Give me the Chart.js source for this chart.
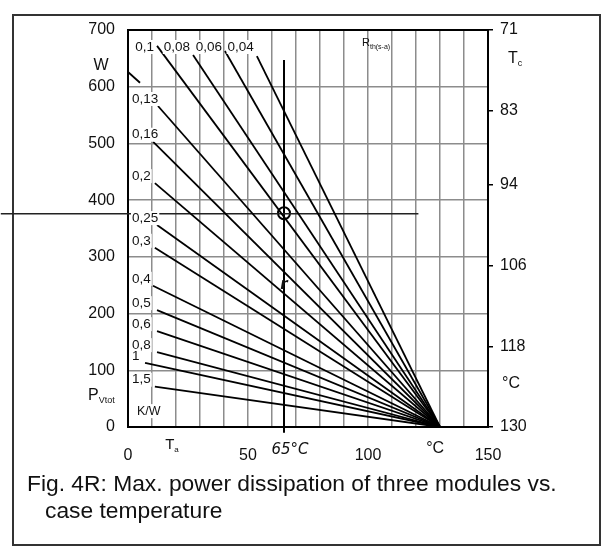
<!DOCTYPE html>
<html>
<head>
<meta charset="utf-8">
<script src="https://cdn.jsdelivr.net/npm/chart.js@4"></script>
<style>
body { margin: 0; background: #fff; }
#wrap { position: relative; width: 604px; height: 550px; }
#frame { position: absolute; left: 12px; top: 14px; width: 585px; height: 528px; border: 2px solid #333; }
canvas { position: absolute; left: 0; top: 0; }
.cap { position: absolute; font-family: 'Liberation Sans', Arial, sans-serif; font-size: 22.8px; line-height: 26px; color: #111; white-space: nowrap; }
</style>
</head>
<body>
<div id="wrap">
  <div id="frame"></div>
  <canvas id="chart" width="604" height="550"></canvas>
  <div class="cap" style="left:27px; top:470px">Fig. 4R: Max. power dissipation of three modules vs.</div>
  <div class="cap" style="left:45px; top:497px">case temperature</div>
</div>
<script>
// thermal resistance curves (start point of each line, all end at 130 °C / 0 W)
const rthLabels = ['0,1', '0,08', '0,06', '0,04', '0,13', '0,16', '0,2', '0,25', '0,3', '0,4', '0,5', '0,6', '0,8', '1', '1,5'];
const startTa = [12.1, 27.1, 40.4, 53.7, 12.5, 10.4, 11.2, 12.1, 11.2, 10.4, 12.1, 12.1, 12.1, 7.1, 11.2];
const startP = [672, 656, 663, 654, 566, 503, 430, 356, 316, 249, 206, 169, 132, 113, 71];
const endTa = 130;
const endP = 0;

// small piece of the 0,13 line left of its label
const stubTa = [0, 5];
const stubP = [626, 607];

// hand drawn guide lines and circle
const guideHTa = [-53, 121];
const guideHP = [376, 376];
const guideVTa = [65, 65];
const guideVP = [647, -10];
const markTa = [65];
const markP = [377];

// axes
const taTickLabels = [0, 50, 100, 150];
const tcTicks = [71, 83, 94, 106, 118, 130];

const FONT = "'Liberation Sans', Arial, sans-serif";
const INK = '#111';

const toPts = (xs, ys) => xs.map((v, i) => ({ x: v, y: ys[i] }));

const datasets = rthLabels.map((lab, i) => ({
    label: lab,
    data: [{ x: startTa[i], y: startP[i] }, { x: endTa, y: endP }],
    showLine: true,
    borderColor: '#000',
    borderWidth: 1.8,
    pointRadius: 0
}));

datasets.push({
    label: 'stub',
    data: toPts(stubTa, stubP),
    showLine: true, borderColor: '#000', borderWidth: 1.8, pointRadius: 0
});
datasets.push({
    label: 'guideH',
    data: toPts(guideHTa, guideHP),
    showLine: true, borderColor: '#222', borderWidth: 1.6, pointRadius: 0, clip: false
});
datasets.push({
    label: 'guideV',
    data: toPts(guideVTa, guideVP),
    showLine: true, borderColor: '#000', borderWidth: 2, pointRadius: 0, clip: false
});
datasets.push({
    label: 'mark',
    data: toPts(markTa, markP),
    showLine: false,
    pointRadius: 6,
    pointBorderWidth: 2,
    pointBorderColor: '#000',
    pointBackgroundColor: 'rgba(0,0,0,0)'
});

const framePlugin = {
    id: 'frame',
    beforeDatasetsDraw(chart) {
        const { ctx, chartArea: a } = chart;
        ctx.save();
        ctx.strokeStyle = '#000';
        ctx.lineWidth = 2;
        ctx.strokeRect(a.left, a.top, a.right - a.left, a.bottom - a.top);
        ctx.restore();
    }
};

function subText(ctx, main, sub, x, y, size, subSize) {
    ctx.font = size + 'px ' + FONT;
    ctx.textAlign = 'left';
    ctx.fillText(main, x, y);
    const w = ctx.measureText(main).width;
    ctx.font = subSize + 'px ' + FONT;
    ctx.fillText(sub, x + w, y + size * 0.35);
}

const labelPlugin = {
    id: 'labels',
    afterDatasetsDraw(chart) {
        const { ctx, chartArea: a, scales: { x, y } } = chart;
        ctx.save();
        ctx.textBaseline = 'middle';
        ctx.font = '13.5px ' + FONT;

        rthLabels.forEach((t, i) => {
            const px = x.getPixelForValue(startTa[i]);
            const py = y.getPixelForValue(startP[i]);
            const w = ctx.measureText(t).width;
            let lx, ly;
            if (startP[i] > 600) {
                lx = px - 3 - w;
                ly = a.top + 17;
            } else {
                lx = a.left + 4;
                ly = py - 7;
            }
            ctx.fillStyle = '#fff';
            ctx.fillRect(lx - 1, ly - 7, w + 2, 14);
            ctx.fillStyle = INK;
            ctx.fillText(t, lx, ly);
        });

        ctx.fillStyle = '#fff';
        ctx.fillRect(a.left + 7, y.getPixelForValue(28) - 7, 27, 14);
        ctx.fillStyle = INK;
        ctx.font = '12.5px ' + FONT;
        ctx.fillText('K/W', a.left + 9, y.getPixelForValue(28));

        // left axis units
        ctx.font = '16px ' + FONT;
        ctx.textAlign = 'center';
        ctx.fillText('W', a.left - 27, y.getPixelForValue(637));
        subText(ctx, 'P', 'Vtot', a.left - 40, y.getPixelForValue(56), 16, 9);

        // right axis units
        subText(ctx, 'T', 'c', a.right + 20, y.getPixelForValue(650), 16, 9);
        ctx.font = '16px ' + FONT;
        ctx.fillText('°C', a.right + 14, y.getPixelForValue(77));

        // bottom axis extras
        const by = a.bottom + 20;
        subText(ctx, 'T', 'a', x.getPixelForValue(15.5), by - 2, 15, 8);
        ctx.font = '16px ' + FONT;
        ctx.textAlign = 'center';
        ctx.fillText('°C', x.getPixelForValue(128), by + 2);
        ctx.font = 'italic 15px "DejaVu Sans", sans-serif';
        ctx.fillText('65°C', x.getPixelForValue(67.5), by + 3);

        // curve family name
        subText(ctx, 'R', 'th(s-a)', x.getPixelForValue(97.5), a.top + 13, 11, 7);

        // pencil tick near the 65 °C line
        ctx.font = 'italic bold 15px "DejaVu Sans", sans-serif';
        ctx.textAlign = 'center';
        ctx.fillText('r', x.getPixelForValue(65), y.getPixelForValue(250));
        ctx.restore();
    }
};

const tickFont = { family: FONT, size: 16 };

new Chart(document.getElementById('chart'), {
    type: 'scatter',
    data: { datasets },
    options: {
        responsive: false,
        animation: false,
        layout: { padding: { top: 30, left: 0, right: 0, bottom: 0 } },
        plugins: { legend: { display: false }, tooltip: { enabled: false } },
        scales: {
            x: {
                type: 'linear', min: 0, max: 150,
                ticks: {
                    stepSize: 10, autoSkip: false, maxRotation: 0, padding: 19,
                    color: INK, font: tickFont,
                    callback: v => taTickLabels.includes(v) ? String(v) : ''
                },
                grid: { color: '#8c8c8c', lineWidth: 1.5, drawTicks: false },
                border: { display: true, color: '#000', width: 2 },
                afterFit: s => { s.height = 123; }
            },
            y: {
                type: 'linear', position: 'left', min: 0, max: 700,
                ticks: { stepSize: 100, padding: 13, color: INK, font: tickFont },
                grid: { color: '#8c8c8c', lineWidth: 1.5, drawTicks: false },
                border: { display: true, color: '#000', width: 2 },
                afterFit: s => { s.width = 128; }
            },
            y2: {
                type: 'linear', position: 'right', min: 71, max: 130, reverse: true,
                afterBuildTicks: s => { s.ticks = tcTicks.map(v => ({ value: v })); },
                ticks: { padding: 7, color: INK, font: tickFont, autoSkip: false },
                grid: { drawOnChartArea: false, drawTicks: true, tickLength: 5, color: '#000', lineWidth: 1.5 },
                border: { display: false },
                afterFit: s => { s.width = 116; }
            }
        }
    },
    plugins: [framePlugin, labelPlugin]
});
</script>
</body>
</html>
